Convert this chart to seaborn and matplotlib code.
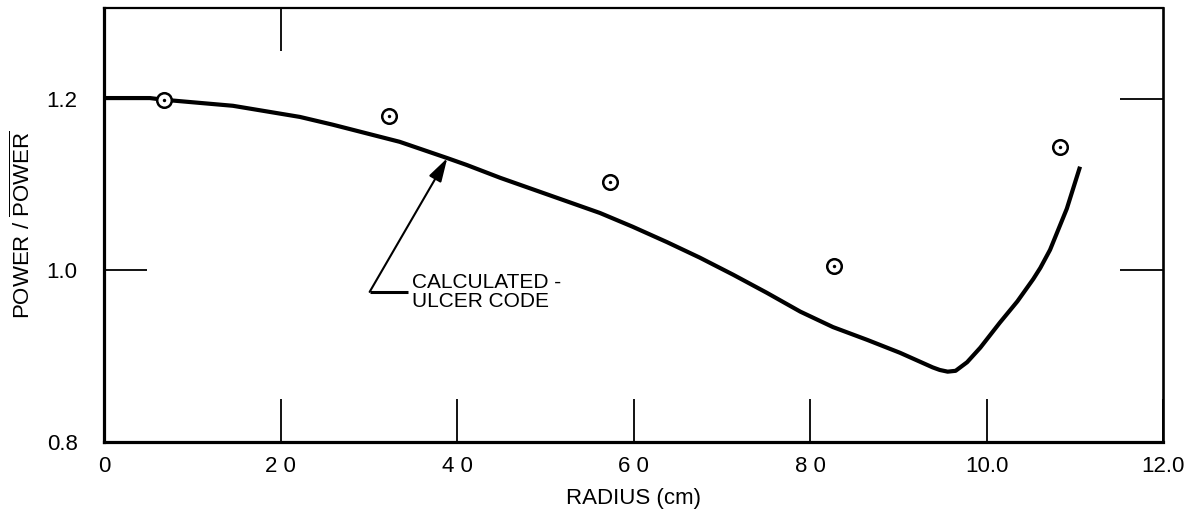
import matplotlib
matplotlib.use("Agg")
import matplotlib.pyplot as plt
import seaborn as sns
import pandas as pd

# ---- data ----
curve_x = [0.0, 0.52, 0.68, 1.46, 2.22, 2.59, 3.35, 3.89, 4.11, 4.49, 5.62, 5.99,
           6.38, 6.75, 7.13, 7.51, 7.89, 8.26, 8.65, 9.02, 9.39, 9.47, 9.56, 9.65,
           9.78, 9.93, 10.15, 10.35, 10.53, 10.61, 10.72, 10.91, 11.06]
curve_y = [1.201, 1.201, 1.199, 1.192, 1.179, 1.170, 1.150, 1.131, 1.123, 1.108, 1.067, 1.051,
           1.033, 1.015, 0.995, 0.974, 0.952, 0.934, 0.919, 0.904, 0.887, 0.884, 0.882, 0.883,
           0.893, 0.910, 0.939, 0.964, 0.990, 1.003, 1.024, 1.072, 1.121]

meas_x = [0.68, 3.23, 5.73, 8.27, 10.83]
meas_y = [1.199, 1.180, 1.103, 1.005, 1.144]

xticks = [0, 2, 4, 6, 8, 10, 12]
xtick_labels = ["0", "2 0", "4 0", "6 0", "8 0", "10.0", "12.0"]
yticks = [0.8, 1.0, 1.2]
ytick_labels = ["0.8", "1.0", "1.2"]

annot_text = "CALCULATED -\nULCER CODE"

# ---- style ----
sns.set_theme(style="white")
plt.rcParams['font.family'] = ['Liberation Sans', 'DejaVu Sans']
plt.rcParams['mathtext.fontset'] = 'custom'
plt.rcParams['mathtext.rm'] = 'Liberation Sans'

fig = plt.figure(figsize=(11.98, 5.16), dpi=100)
ax = fig.add_axes([104/1198, 74/516, (1163-104)/1198, (442-8)/516])

df_curve = pd.DataFrame({"r": curve_x, "p": curve_y})
df_meas = pd.DataFrame({"r": meas_x, "p": meas_y})

sns.lineplot(data=df_curve, x="r", y="p", ax=ax, color="black", lw=3,
             sort=False, estimator=None, solid_capstyle="butt", solid_joinstyle="round")
sns.scatterplot(data=df_meas, x="r", y="p", ax=ax, s=110, marker="o",
                facecolor="white", edgecolor="black", linewidth=1.8, zorder=5)
sns.scatterplot(data=df_meas, x="r", y="p", ax=ax, s=6, marker="o",
                color="black", linewidth=0, zorder=6)

ax.set_xlim(0, 12)
ax.set_ylim(0.8, 1.306)

ax.set_xticks(xticks)
ax.set_xticklabels(xtick_labels)
ax.set_yticks(yticks)
ax.set_yticklabels(ytick_labels)
ax.tick_params(axis="both", direction="in", length=31, width=1.3,
               color="black", labelsize=16, labelcolor="black",
               bottom=True, left=True)
ax.tick_params(axis="x", pad=10)
ax.tick_params(axis="y", pad=19, right=True)

sec = ax.secondary_xaxis("top")
sec.set_xticks([2])
sec.set_xticklabels([])
sec.tick_params(direction="in", length=31, width=1.3, color="black", top=True)
sec.spines["top"].set_visible(False)

for side, w in [("left", 2.3), ("bottom", 2.3), ("top", 1.6), ("right", 1.9)]:
    ax.spines[side].set_visible(True)
    ax.spines[side].set_color("black")
    ax.spines[side].set_linewidth(w)

ax.set_xlabel("RADIUS (cm)", fontsize=16, color="black", labelpad=8)
ax.set_ylabel(r"POWER / $\overline{\mathrm{POWER}}$", fontsize=16, color="black", labelpad=8)
ax.grid(False)

# annotation
ax.plot([3.01, 3.45], [0.975, 0.975], color="black", lw=2.2, solid_capstyle="butt")
ax.annotate("", xy=(3.89, 1.131), xytext=(3.01, 0.975),
            arrowprops=dict(arrowstyle="-|>,head_length=1.2,head_width=0.35",
                            color="black", lw=1.5, shrinkA=0, shrinkB=0))
ax.text(3.49, 0.975, annot_text, fontsize=15, color="black",
        ha="left", va="center", linespacing=0.95)

fig.savefig("out.png", dpi=100, facecolor="white")
